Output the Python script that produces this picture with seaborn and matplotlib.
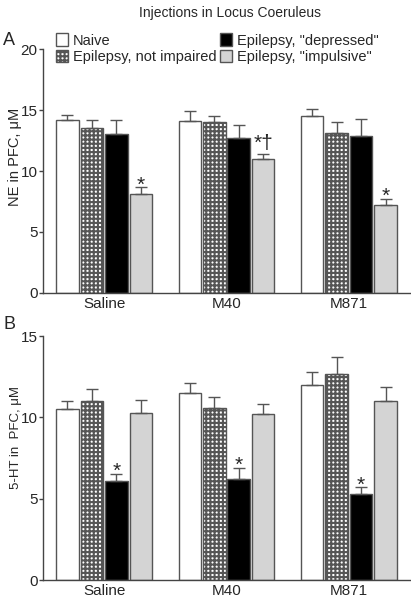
import numpy as np
import pandas as pd
import matplotlib
matplotlib.use('Agg')
import matplotlib.pyplot as plt
from matplotlib.patches import Patch
import seaborn as sns

# data (mean and SEM per condition, one value per injection group)
groups = ['Saline', 'M40', 'M871']
conditions = ['Naive', 'Epilepsy, not impaired', 'Epilepsy, "depressed"', 'Epilepsy, "impulsive"']

ne_naive = [14.2, 14.1, 14.5]
ne_not_impaired = [13.5, 14.0, 13.1]
ne_depressed = [13.0, 12.7, 12.9]
ne_impulsive = [8.1, 11.0, 7.2]
ne_sem_naive = [0.4, 0.8, 0.6]
ne_sem_not_impaired = [0.7, 0.55, 0.9]
ne_sem_depressed = [1.15, 1.05, 1.35]
ne_sem_impulsive = [0.55, 0.4, 0.5]

ht_naive = [10.5, 11.5, 12.0]
ht_not_impaired = [11.0, 10.6, 12.65]
ht_depressed = [6.1, 6.2, 5.3]
ht_impulsive = [10.3, 10.2, 11.0]
ht_sem_naive = [0.5, 0.6, 0.8]
ht_sem_not_impaired = [0.75, 0.65, 1.1]
ht_sem_depressed = [0.45, 0.7, 0.4]
ht_sem_impulsive = [0.8, 0.6, 0.9]

# significance marks: (condition index, group index, text)
ne_marks = [(3, 0, '*'), (3, 1, '*\u2020'), (3, 2, '*')]
ht_marks = [(2, 0, '*'), (2, 1, '*'), (2, 2, '*')]


def make_df(means, sems):
    rows = []
    for c, m, s in zip(conditions, means, sems):
        for g, v, e in zip(groups, m, s):
            rows.append({'Group': g, 'Condition': c, 'Value': v, 'SEM': e})
    return pd.DataFrame(rows)


df_ne = make_df([ne_naive, ne_not_impaired, ne_depressed, ne_impulsive],
                [ne_sem_naive, ne_sem_not_impaired, ne_sem_depressed, ne_sem_impulsive])
df_ht = make_df([ht_naive, ht_not_impaired, ht_depressed, ht_impulsive],
                [ht_sem_naive, ht_sem_not_impaired, ht_sem_depressed, ht_sem_impulsive])

sns.set_style('ticks')
plt.rcParams['font.family'] = ['Liberation Sans', 'DejaVu Sans']
plt.rcParams['hatch.linewidth'] = 1.5

colors = ['white', 'white', 'black', '#d4d4d4']
hatches = [None, '++++', None, None]
edge = '#555555'
spine = '#444444'


def draw_panel(ax, df, marks, ymax, ylabel, label_y, label_size):
    sns.barplot(data=df, x='Group', y='Value', hue='Condition', order=groups,
                hue_order=conditions, palette=colors, errorbar=None, gap=0.08,
                edgecolor=edge, linewidth=1.0, legend=False, ax=ax)
    bars = ax.patches
    tops = {}
    for i, c in enumerate(conditions):
        for j, g in enumerate(groups):
            p = bars[i * len(groups) + j]
            if hatches[i]:
                p.set_hatch(hatches[i])
            p.set_edgecolor(edge)
            xc = p.get_x() + p.get_width() / 2
            h = p.get_height()
            e = df[(df.Condition == c) & (df.Group == g)]['SEM'].iloc[0]
            ax.errorbar(xc, h, yerr=[[0], [e]], fmt='none', ecolor=edge,
                        elinewidth=1.0, capsize=4, capthick=1.0, zorder=1)
            tops[(i, j)] = (xc, h + e)
    for i, j, t in marks:
        xc, yt = tops[(i, j)]
        dy = 3.6 if '\u2020' in t else -2.2
        ax.annotate(t, xy=(xc, yt), xytext=(0, dy), textcoords='offset points',
                    ha='center', va='baseline', fontsize=15)
    ax.set_xlim(-0.5, 2.5)
    ax.set_ylim(0, ymax)
    ax.set_yticks(np.arange(0, ymax + 1, 5))
    ax.set_xlabel('')
    ax.set_ylabel(ylabel, fontsize=label_size)
    ax.yaxis.set_label_coords(-0.058, label_y)
    sns.despine(ax=ax)
    for s in ['left', 'bottom']:
        ax.spines[s].set_color(spine)
        ax.spines[s].set_linewidth(1.0)
    ax.tick_params(axis='y', length=3, width=1.0, color=spine, labelsize=11, pad=1)
    ax.tick_params(axis='x', length=0, labelsize=11, pad=3)


fig = plt.figure(figsize=(4.11, 5.99), dpi=100)
ax_a = fig.add_axes([0.1046, 0.511, 0.893, 0.407])
ax_b = fig.add_axes([0.1046, 0.0317, 0.893, 0.407])

draw_panel(ax_a, df_ne, ne_marks, 20, 'NE in PFC, \u03bcM', 0.557, 10.5)
draw_panel(ax_b, df_ht, ht_marks, 15, '5-HT in  PFC, \u03bcM', 0.586, 9.5)

handles = [Patch(facecolor=colors[k], edgecolor=edge, hatch=hatches[k], label=conditions[k])
           for k in range(4)]
ax_a.legend(handles=handles, ncol=2, loc='upper left', bbox_to_anchor=(0.02, 1.088),
            frameon=False, fontsize=10.5, handlelength=0.8, handleheight=0.9,
            handletextpad=0.35, columnspacing=0.25, labelspacing=0.15, borderaxespad=0)

fig.text(0.56, 0.978, 'Injections in Locus Coeruleus', ha='center', va='center', fontsize=10)
fig.text(0.008, 0.933, 'A', ha='left', va='center', fontsize=13)
fig.text(0.008, 0.458, 'B', ha='left', va='center', fontsize=13)

fig.savefig('out.png', dpi=100)
